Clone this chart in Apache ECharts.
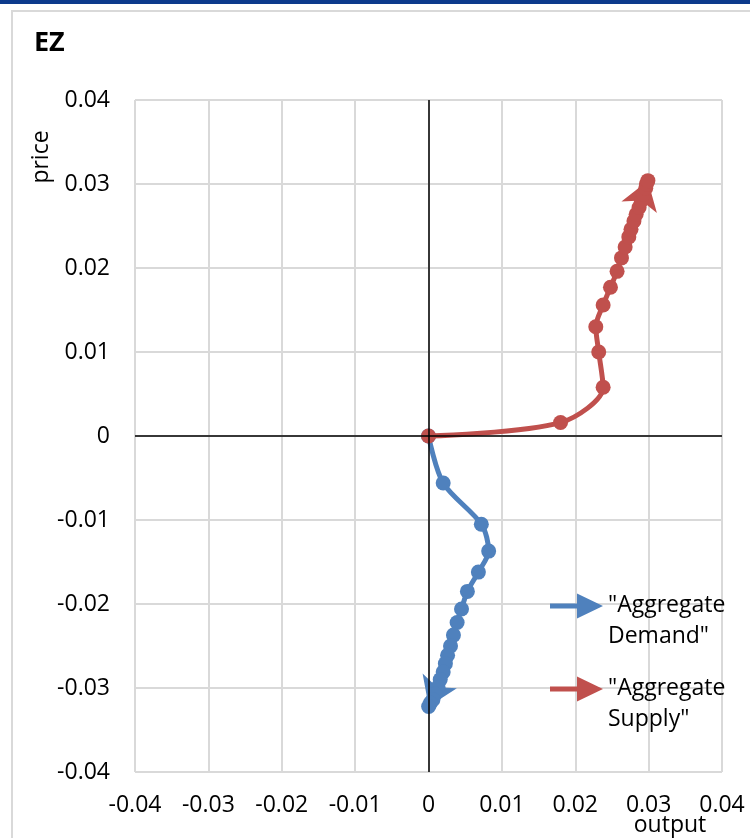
<!DOCTYPE html>
<html>
<head>
<meta charset="utf-8">
<script src="https://cdn.jsdelivr.net/npm/echarts@6/dist/echarts.min.js"></script>
<style>
html,body{margin:0;padding:0;background:#fff;}
#main{width:750px;height:838px;}
</style>
</head>
<body>
<div id="main"></div>
<script>
// ---- data ----
var title = 'EZ';
var xAxisName = 'output';
var yAxisName = 'price';
var demandName = '"Aggregate Demand"';
var supplyName = '"Aggregate Supply"';

var demandX = [0, 0.0020, 0.0072, 0.0082, 0.0068, 0.0053, 0.0045, 0.0039, 0.0034, 0.0030, 0.0026, 0.0023, 0.0020, 0.0016, 0.0013, 0.0009, 0.0006, 0.00025, 0.00002];
var demandY = [0, -0.0056, -0.0105, -0.0137, -0.0162, -0.0185, -0.0206, -0.0222, -0.0237, -0.0250, -0.0261, -0.0271, -0.0281, -0.0290, -0.0299, -0.0307, -0.0314, -0.0318, -0.0322];

var supplyX = [0, 0.0180, 0.0238, 0.0232, 0.0228, 0.0238, 0.0248, 0.0257, 0.0263, 0.0268, 0.0273, 0.0276, 0.0280, 0.0283, 0.0287, 0.0290, 0.0293, 0.0296, 0.0297, 0.0299];
var supplyY = [0, 0.0016, 0.0058, 0.0100, 0.0130, 0.0156, 0.0177, 0.0196, 0.0212, 0.0225, 0.0237, 0.0246, 0.0256, 0.0264, 0.0272, 0.0280, 0.0288, 0.0295, 0.0300, 0.0304];

var axisMin = -0.04, axisMax = 0.04, axisStep = 0.01;

// ---- build ----
var BLUE = '#4F81BD', RED = '#C0504D';
var FONT = '"Open Sans", "Noto Sans", sans-serif';
function pairs(xs, ys){ return xs.map(function(x,i){ return [x, ys[i]]; }); }
var demand = pairs(demandX, demandY);
var supply = pairs(supplyX, supplyY);
function arrowCoords(p){ return [p[p.length-6], p[p.length-1]]; }

var arrowIcon = 'path://M0,0 L0.01,0 Z M0,12.5 L27,12.5 L27,2.5 L53,15 L27,27.5 L27,17.5 L0,17.5 Z M0,60 L0.01,60 Z';

var chart = echarts.init(document.getElementById('main'));
var valAxis = {
  type: 'value', min: axisMin, max: axisMax, interval: axisStep,
  axisLine: {show: false}, axisTick: {show: false},
  splitLine: {show: true, lineStyle: {color: '#d9d9d9', width: 2}},
  axisLabel: {color: '#000', fontSize: 23, fontFamily: FONT}
};
var option = {
  animation: false,
  backgroundColor: '#fff',
  title: {text: title, left: 29, top: 25, textStyle: {fontSize: 27, fontWeight: 'bold', color: '#000', fontFamily: FONT}},
  grid: {left: 135, right: 28, top: 100, bottom: 66},
  xAxis: Object.assign({}, valAxis, {axisLabel: Object.assign({}, valAxis.axisLabel, {margin: 22})}),
  yAxis: Object.assign({}, valAxis, {axisLabel: Object.assign({}, valAxis.axisLabel, {margin: 25})}),
  legend: {
    orient: 'vertical', left: 545, top: 585, itemWidth: 53, itemHeight: 60, itemGap: 21,
    itemStyle: {borderWidth: 0},
    textStyle: {fontSize: 23, lineHeight: 31, color: '#000', fontFamily: FONT},
    formatter: function(n){ return n.replace(' ', '\n'); },
    data: [{name: demandName, icon: arrowIcon}, {name: supplyName, icon: arrowIcon}]
  },
  graphic: [
    {type: 'rect', shape: {x: 0, y: 0, width: 750, height: 4}, style: {fill: '#0d3a8c'}, silent: true},
    {type: 'rect', shape: {x: 12, y: 11, width: 780, height: 860}, style: {fill: 'none', stroke: '#d9d9d9', lineWidth: 2}, silent: true},
    {type: 'text', x: 41, y: 157, rotation: Math.PI / 2, style: {text: yAxisName, font: '23px ' + FONT, fill: '#000', align: 'center', verticalAlign: 'middle'}},
    {type: 'text', x: 670, y: 825, style: {text: xAxisName, font: '23px ' + FONT, fill: '#000', align: 'center', verticalAlign: 'middle'}}
  ],
  series: [
    {type: 'line', name: 'zero', data: [], z: 1, silent: true,
     markLine: {silent: true, symbol: 'none', label: {show: false},
       lineStyle: {color: '#000', width: 1.5, type: 'solid'},
       data: [{xAxis: 0}, {yAxis: 0}]}},
    {type: 'line', name: demandName, data: demand, smooth: 0.3, z: 3,
     symbol: 'circle', symbolSize: 15, itemStyle: {color: BLUE, borderWidth: 0},
     lineStyle: {color: BLUE, width: 5}},
    {type: 'lines', name: 'demand-arrow', coordinateSystem: 'cartesian2d', z: 3, silent: true,
     symbol: ['none', 'arrow'], symbolSize: 28,
     lineStyle: {color: BLUE, width: 5, opacity: 1},
     data: [{coords: arrowCoords(demand)}]},
    {type: 'line', name: supplyName, data: supply, smooth: 0.3, z: 4,
     symbol: 'circle', symbolSize: 15, itemStyle: {color: RED, borderWidth: 0},
     lineStyle: {color: RED, width: 5}},
    {type: 'lines', name: 'supply-arrow', coordinateSystem: 'cartesian2d', z: 4, silent: true,
     symbol: ['none', 'arrow'], symbolSize: 28,
     lineStyle: {color: RED, width: 5, opacity: 1},
     data: [{coords: arrowCoords(supply)}]}
  ]
};
chart.setOption(option);
</script>
</body>
</html>
